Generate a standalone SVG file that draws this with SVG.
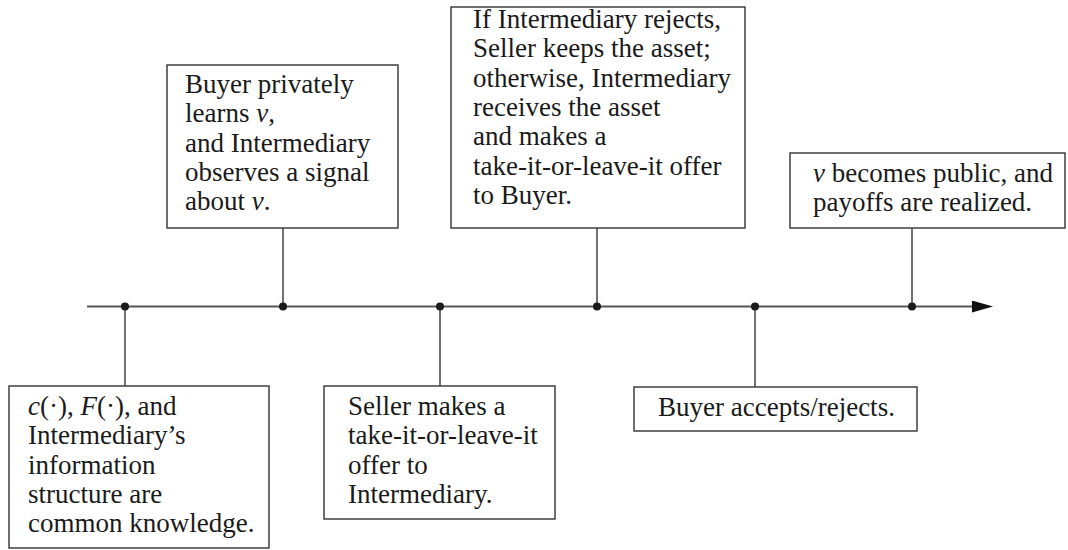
<svg xmlns="http://www.w3.org/2000/svg" width="1068" height="550" viewBox="0 0 1068 550">
<defs>
<marker id="arrow" markerUnits="userSpaceOnUse" markerWidth="22" markerHeight="13" refX="0" refY="6" orient="auto">
<path d="M0,0 L21,6 L0,12 Z" fill="#111"/>
</marker>
<circle id="dot" r="4" fill="#1a1a1a"/>
</defs>
<rect width="1068" height="550" fill="#fff"/>
<g id="connectors">
<line x1="87" y1="306.5" x2="972" y2="306.5" stroke="#555" stroke-width="2" marker-end="url(#arrow)"/>
<g stroke="#444" stroke-width="1.5">
<line x1="125" y1="306" x2="125" y2="386"/>
<line x1="283" y1="228" x2="283" y2="306"/>
<line x1="440" y1="306" x2="440" y2="386"/>
<line x1="597" y1="228" x2="597" y2="306"/>
<line x1="755" y1="306" x2="755" y2="387"/>
<line x1="912" y1="228" x2="912" y2="306"/>
</g>
<use href="#dot" x="125" y="306.5"/>
<use href="#dot" x="283" y="306.5"/>
<use href="#dot" x="440" y="306.5"/>
<use href="#dot" x="597" y="306.5"/>
<use href="#dot" x="755" y="306.5"/>
<use href="#dot" x="912" y="306.5"/>
</g>
<g id="node1">
<rect x="9" y="386" width="260" height="162" fill="#fff" stroke="#333" stroke-width="1.4"/>
<text style="font-family:'Liberation Serif',serif !important;font-size:27px;fill:#1a1a1a" x="28" y="415"><tspan font-style="italic">c</tspan>(·), <tspan font-style="italic">F</tspan>(·), and</text>
<text style="font-family:'Liberation Serif',serif !important;font-size:27px;fill:#1a1a1a" x="28" y="444.3">Intermediary’s</text>
<text style="font-family:'Liberation Serif',serif !important;font-size:27px;fill:#1a1a1a" x="28" y="473.6">information</text>
<text style="font-family:'Liberation Serif',serif !important;font-size:27px;fill:#1a1a1a" x="28" y="502.9">structure are</text>
<text style="font-family:'Liberation Serif',serif !important;font-size:27px;fill:#1a1a1a" x="28" y="532.2">common knowledge.</text>
</g>
<g id="node2">
<rect x="167" y="65" width="231" height="163" fill="#fff" stroke="#333" stroke-width="1.4"/>
<text style="font-family:'Liberation Serif',serif !important;font-size:27px;fill:#1a1a1a" x="185" y="93">Buyer privately</text>
<text style="font-family:'Liberation Serif',serif !important;font-size:27px;fill:#1a1a1a" x="185" y="122.3">learns <tspan font-style="italic">v</tspan>,</text>
<text style="font-family:'Liberation Serif',serif !important;font-size:27px;fill:#1a1a1a" x="185" y="151.6">and Intermediary</text>
<text style="font-family:'Liberation Serif',serif !important;font-size:27px;fill:#1a1a1a" x="185" y="180.9">observes a signal</text>
<text style="font-family:'Liberation Serif',serif !important;font-size:27px;fill:#1a1a1a" x="185" y="210.2">about <tspan font-style="italic">v</tspan>.</text>
</g>
<g id="node3">
<rect x="324" y="386" width="231" height="133" fill="#fff" stroke="#333" stroke-width="1.4"/>
<text style="font-family:'Liberation Serif',serif !important;font-size:27px;fill:#1a1a1a" x="348" y="415">Seller makes a</text>
<text style="font-family:'Liberation Serif',serif !important;font-size:27px;fill:#1a1a1a" x="348" y="444.3">take-it-or-leave-it</text>
<text style="font-family:'Liberation Serif',serif !important;font-size:27px;fill:#1a1a1a" x="348" y="473.6">offer to</text>
<text style="font-family:'Liberation Serif',serif !important;font-size:27px;fill:#1a1a1a" x="348" y="502.9">Intermediary.</text>
</g>
<g id="node4">
<rect x="451" y="7" width="294" height="221" fill="#fff" stroke="#333" stroke-width="1.4"/>
<text style="font-family:'Liberation Serif',serif !important;font-size:27px;fill:#1a1a1a" x="473" y="28">If Intermediary rejects,</text>
<text style="font-family:'Liberation Serif',serif !important;font-size:27px;fill:#1a1a1a" x="473" y="57.3">Seller keeps the asset;</text>
<text style="font-family:'Liberation Serif',serif !important;font-size:27px;fill:#1a1a1a" x="473" y="86.6">otherwise, Intermediary</text>
<text style="font-family:'Liberation Serif',serif !important;font-size:27px;fill:#1a1a1a" x="473" y="115.9">receives the asset</text>
<text style="font-family:'Liberation Serif',serif !important;font-size:27px;fill:#1a1a1a" x="473" y="145.2">and makes a</text>
<text style="font-family:'Liberation Serif',serif !important;font-size:27px;fill:#1a1a1a" x="473" y="174.5">take-it-or-leave-it offer</text>
<text style="font-family:'Liberation Serif',serif !important;font-size:27px;fill:#1a1a1a" x="473" y="203.8">to Buyer.</text>
</g>
<g id="node5">
<rect x="634" y="387" width="283" height="44" fill="#fff" stroke="#333" stroke-width="1.4"/>
<text style="font-family:'Liberation Serif',serif !important;font-size:27px;fill:#1a1a1a" x="658" y="416">Buyer accepts/rejects.</text>
</g>
<g id="node6">
<rect x="790" y="153" width="275" height="75" fill="#fff" stroke="#333" stroke-width="1.4"/>
<text style="font-family:'Liberation Serif',serif !important;font-size:27px;fill:#1a1a1a" x="813" y="182"><tspan font-style="italic">v</tspan> becomes public, and</text>
<text style="font-family:'Liberation Serif',serif !important;font-size:27px;fill:#1a1a1a" x="813" y="211.3">payoffs are realized.</text>
</g>
</svg>
